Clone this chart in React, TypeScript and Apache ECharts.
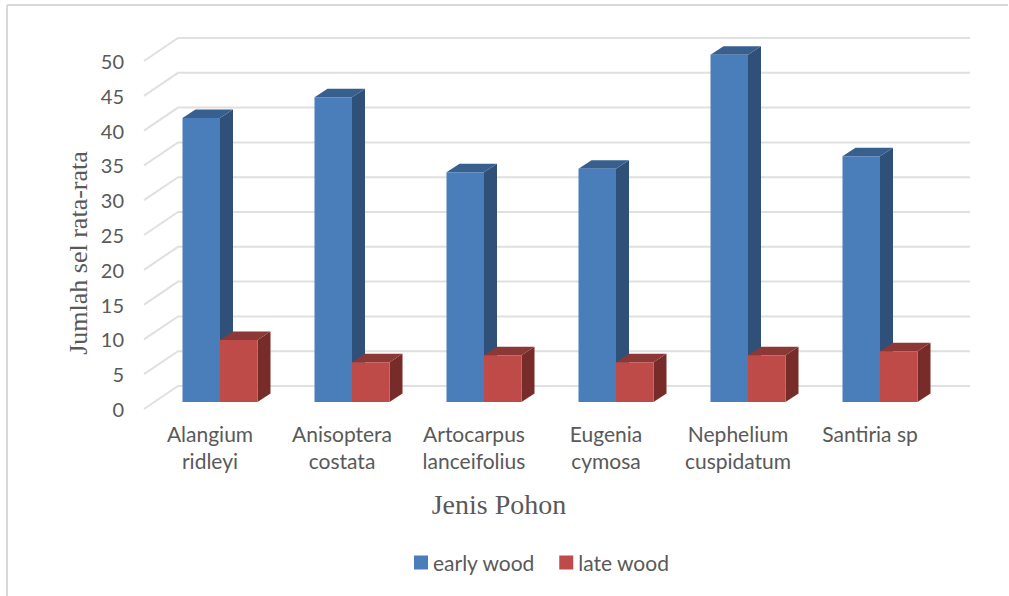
import React, { useEffect, useRef } from "react";
import * as echarts from "echarts";

const categories = [
  "Alangium\nridleyi",
  "Anisoptera\ncostata",
  "Artocarpus\nlanceifolius",
  "Eugenia\ncymosa",
  "Nephelium\ncuspidatum",
  "Santiria sp",
];
const earlyWood = [40.8, 43.8, 33, 33.5, 49.9, 35.3];
const lateWood = [8.9, 5.7, 6.7, 5.7, 6.7, 7.3];
const gridTicks = [0, 5, 10, 15, 20, 25, 30, 35, 40, 45, 50];

// Projection of the depth axis on screen
const WALL_DX = 34;
const WALL_DY = -23;
const BAR_INSET_DX = 10;
const BAR_INSET_DY = -7;
const BAR_DX = 13;
const BAR_DY = -8.5;
const BAR_WIDTH = 37.5;

const wallRenderer = (params: any, api: any) => {
  const cs = params.coordSys;
  const y = api.coord([0, api.value(1)])[1];
  return {
    type: "polyline",
    shape: {
      points: [
        [cs.x, y],
        [cs.x + WALL_DX, y + WALL_DY],
        [cs.x + cs.width + WALL_DX, y + WALL_DY],
      ],
    },
    style: { stroke: "#e0e0e0", lineWidth: 2, fill: "none" },
  };
};

// Draws one box: front face, side face and top face
const boxRenderer =
  (offsetSign: number, front: string, side: string, top: string) =>
  (_params: any, api: any) => {
    const idx = api.value(0);
    const [cx, yTop0] = api.coord([idx, api.value(1)]);
    const yBase0 = api.coord([idx, 0])[1];
    const x0 = cx + BAR_INSET_DX + (offsetSign < 0 ? -BAR_WIDTH : 0);
    const x1 = x0 + BAR_WIDTH;
    const yTop = yTop0 + BAR_INSET_DY;
    const yBase = yBase0 + BAR_INSET_DY;
    return {
      type: "group",
      children: [
        {
          type: "polygon",
          shape: {
            points: [
              [x1, yTop],
              [x1 + BAR_DX, yTop + BAR_DY],
              [x1 + BAR_DX, yBase + BAR_DY],
              [x1, yBase],
            ],
          },
          style: { fill: side },
        },
        {
          type: "polygon",
          shape: {
            points: [
              [x0, yTop],
              [x0 + BAR_DX, yTop + BAR_DY],
              [x1 + BAR_DX, yTop + BAR_DY],
              [x1, yTop],
            ],
          },
          style: { fill: top },
        },
        {
          type: "rect",
          shape: { x: x0, y: yTop, width: BAR_WIDTH, height: yBase - yTop },
          style: { fill: front },
        },
      ],
    };
  };

export default function App() {
  const ref = useRef<HTMLDivElement>(null);

  useEffect(() => {
    document.body.style.margin = "0";
    const chart = echarts.init(ref.current!, undefined, { renderer: "svg" });
    chart.setOption({
      animation: false,
      backgroundColor: "#ffffff",
      grid: { left: 144, top: 61, width: 792, height: 348 },
      legend: {
        data: ["early wood", "late wood"],
        left: 409,
        top: 547,
        icon: "rect",
        itemWidth: 14,
        itemHeight: 14,
        itemGap: 24,
        textStyle: { fontFamily: "Lato", fontSize: 21, color: "#595959", padding: [0, 0, 0, 0] },
      },
      xAxis: {
        type: "category",
        data: categories,
        axisLine: { show: false },
        axisTick: { show: false },
        splitLine: { show: false },
        axisLabel: {
          fontFamily: "Lato",
          fontSize: 21,
          color: "#595959",
          lineHeight: 27,
          margin: 11,
          interval: 0,
        },
      },
      yAxis: {
        type: "value",
        min: 0,
        max: 50,
        interval: 5,
        axisLine: { show: false },
        axisTick: { show: false },
        splitLine: { show: false },
        axisLabel: { fontFamily: "Lato", fontSize: 20, color: "#595959", margin: 20 },
      },
      graphic: [
        {
          type: "line",
          shape: { x1: 7, y1: 5, x2: 1008, y2: 5 },
          style: { stroke: "#d9d9d9", lineWidth: 2 },
        },
        {
          type: "line",
          shape: { x1: 7, y1: 5, x2: 7, y2: 596 },
          style: { stroke: "#d9d9d9", lineWidth: 2 },
        },
        {
          type: "text",
          x: 499,
          y: 504,
          style: {
            text: "Jenis Pohon",
            font: "28px 'Liberation Serif'",
            fill: "#595959",
            textAlign: "center",
            textVerticalAlign: "middle",
          },
        },
        {
          type: "text",
          x: 78,
          y: 253,
          rotation: Math.PI / 2,
          style: {
            text: "Jumlah sel rata-rata",
            font: "26px 'Liberation Serif'",
            fill: "#595959",
            textAlign: "center",
            textVerticalAlign: "middle",
          },
        },
      ],
      series: [
        {
          name: "walls",
          type: "custom",
          renderItem: wallRenderer,
          data: gridTicks.map((t) => [0, t]),
          encode: { x: 0, y: 1 },
          silent: true,
          z: 1,
        },
        {
          name: "early wood",
          type: "custom",
          renderItem: boxRenderer(-1, "#4a7ebb", "#2f5078", "#38608f"),
          data: earlyWood.map((v, i) => [i, v]),
          encode: { x: 0, y: 1 },
          itemStyle: { color: "#4a7ebb" },
          z: 2,
        },
        {
          name: "late wood",
          type: "custom",
          renderItem: boxRenderer(1, "#be4b48", "#772c2a", "#8c3836"),
          data: lateWood.map((v, i) => [i, v]),
          encode: { x: 0, y: 1 },
          itemStyle: { color: "#be4b48" },
          z: 3,
        },
      ],
    });
    return () => chart.dispose();
  }, []);

  return <div ref={ref} style={{ position: "fixed", left: 0, top: 0, width: 1009, height: 596 }} />;
}
